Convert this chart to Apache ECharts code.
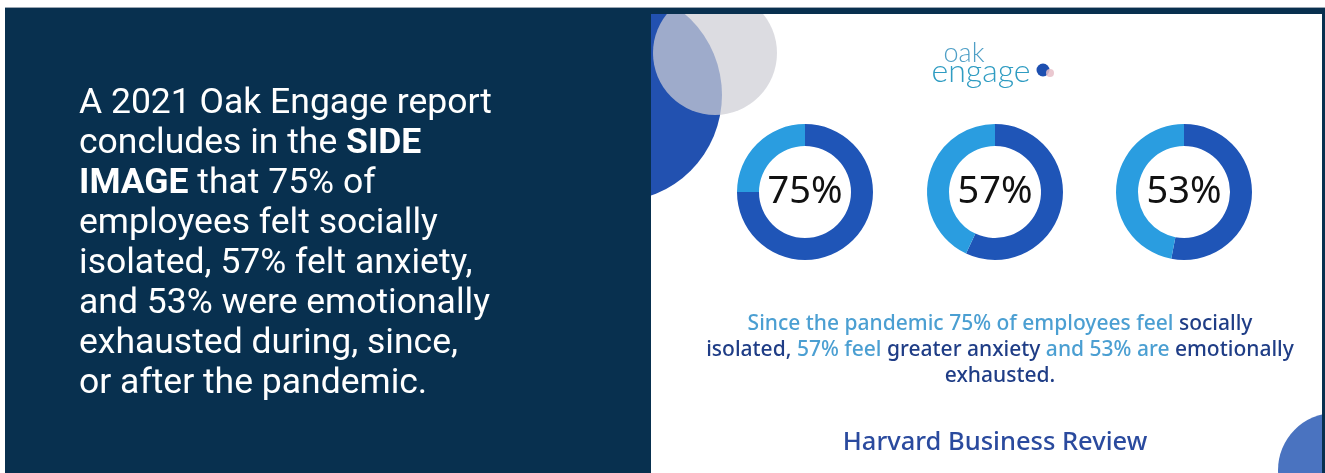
<!DOCTYPE html>
<html>
<head>
<meta charset="utf-8">
<script src="https://cdn.jsdelivr.net/npm/echarts@6/dist/echarts.min.js"></script>
<style>
html,body{margin:0;padding:0;background:#fff;}
#chart{width:1325px;height:473px;}
</style>
</head>
<body>
<div id="chart"></div>
<script>
// ---- data ----
const categories = ['socially isolated', 'greater anxiety', 'emotionally exhausted'];
const values = [75, 57, 53];
const remainders = [25, 43, 47];
const valueLabels = ['75%', '57%', '53%'];

const leftLines = [
  'A 2021 Oak Engage report',
  'concludes in the {b|SIDE}',
  '{b|IMAGE} that 75% of',
  'employees felt socially',
  'isolated, 57% felt anxiety,',
  'and 53% were emotionally',
  'exhausted during, since,',
  'or after the pandemic.'
];
const captionLines = [
  '{l|Since the pandemic 75% of employees feel }{d|socially}',
  '{d|isolated,}{l| 57% feel }{d|greater anxiety}{l| and 53% are }{d|emotionally}',
  '{d|exhausted.}'
];
const sourceText = 'Harvard Business Review';

// ---- styles ----
const NAVY = '#08304f';
const DARK = '#1f55b7';
const LIGHT = '#2a9de0';
const centersX = [805, 995, 1184];

const chart = echarts.init(document.getElementById('chart'), null, {renderer: 'canvas'});

const series = values.map((v, i) => ({
  type: 'pie',
  name: categories[i],
  center: [centersX[i], 192],
  radius: [46, 68],
  startAngle: 90,
  clockwise: true,
  silent: true,
  z: 5,
  label: {show: false},
  labelLine: {show: false},
  emphasis: {disabled: true},
  data: [
    {value: v, name: valueLabels[i], itemStyle: {color: DARK},
     label: {show: true, position: 'center', formatter: '{b}', color: '#111', fontSize: 38, fontFamily: 'Noto Sans', fontWeight: 400}},
    {value: remainders[i], name: '', itemStyle: {color: LIGHT}}
  ]
}));

const capFont = 21;

chart.setOption({
  backgroundColor: '#ffffff',
  animation: false,
  graphic: [
    // navy background
    {type: 'rect', z: 0, shape: {x: 5, y: 8, width: 1320, height: 465}, style: {fill: NAVY}},
    // white image panel
    {type: 'rect', z: 1, shape: {x: 651, y: 14, width: 671, height: 459}, style: {fill: '#ffffff'}},
    // decorative circles (clipped to panel by drawing borders over)
    {type: 'circle', z: 2, shape: {cx: 615, cy: 95, r: 107}, style: {fill: '#2251b0'}},
    {type: 'circle', z: 2, shape: {cx: 715, cy: 53, r: 62}, style: {fill: 'rgba(206,207,214,0.72)'}},
    {type: 'circle', z: 2, shape: {cx: 1335, cy: 470, r: 57}, style: {fill: '#4a73c0'}},
    // cover strips to clip circles
    {type: 'rect', z: 3, shape: {x: 5, y: 8, width: 646, height: 465}, style: {fill: NAVY}},
    {type: 'rect', z: 3, shape: {x: 5, y: 8, width: 1320, height: 6}, style: {fill: NAVY}},
    {type: 'rect', z: 3, shape: {x: 1322, y: 8, width: 3, height: 465}, style: {fill: NAVY}},
    {type: 'rect', z: 3, shape: {x: 0, y: 0, width: 1325, height: 8}, style: {fill: '#ffffff'}},
    {type: 'rect', z: 3, shape: {x: 0, y: 0, width: 5, height: 473}, style: {fill: '#ffffff'}},
    {type: 'rect', z: 3, shape: {x: 5, y: 7, width: 1320, height: 1}, style: {fill: '#9aa6b2'}},
    // left text
    {type: 'text', z: 4, x: 79, y: 84, style: {
      text: leftLines.join('\n'),
      fill: '#ffffff', fontSize: 35.5, fontFamily: 'Roboto', fontWeight: 400,
      lineHeight: 40, align: 'left', verticalAlign: 'top',
      rich: {b: {fontWeight: 700, fontSize: 35.5, fontFamily: 'Roboto', fill: '#ffffff', lineHeight: 40}}
    }},
    // logo
    {type: 'text', z: 4, x: 964, y: 53, style: {text: 'oak', fill: '#4f9fc6', fontSize: 27, fontFamily: 'Lato', fontWeight: 300, align: 'center', verticalAlign: 'middle'}},
    {type: 'text', z: 4, x: 981, y: 72, style: {text: 'engage', fill: '#2f9cc2', fontSize: 32, fontFamily: 'Lato', fontWeight: 300, align: 'center', verticalAlign: 'middle'}},
    {type: 'circle', z: 4, shape: {cx: 1043, cy: 70, r: 6.5}, style: {fill: '#1d4fb0'}},
    {type: 'circle', z: 4, shape: {cx: 1050, cy: 73, r: 4}, style: {fill: 'rgba(230,190,200,0.85)'}},
    // caption
    {type: 'text', z: 4, x: 1000, y: 350, style: {
      text: captionLines.join('\n'),
      align: 'center', verticalAlign: 'middle', fontSize: capFont, lineHeight: 26, fontFamily: 'Noto Sans',
      rich: {
        l: {fill: '#4b9fd2', fontSize: capFont, fontWeight: 500, fontFamily: 'Noto Sans', lineHeight: 26},
        d: {fill: '#1f3d86', fontSize: capFont, fontWeight: 500, fontFamily: 'Noto Sans', lineHeight: 26}
      }
    }},
    {type: 'text', z: 4, x: 995, y: 443, style: {text: sourceText, fill: '#2a4a9e', fontSize: 25.5, fontFamily: 'Noto Sans', fontWeight: 500, align: 'center', verticalAlign: 'middle'}}
  ],
  series: series
});
</script>
</body>
</html>
